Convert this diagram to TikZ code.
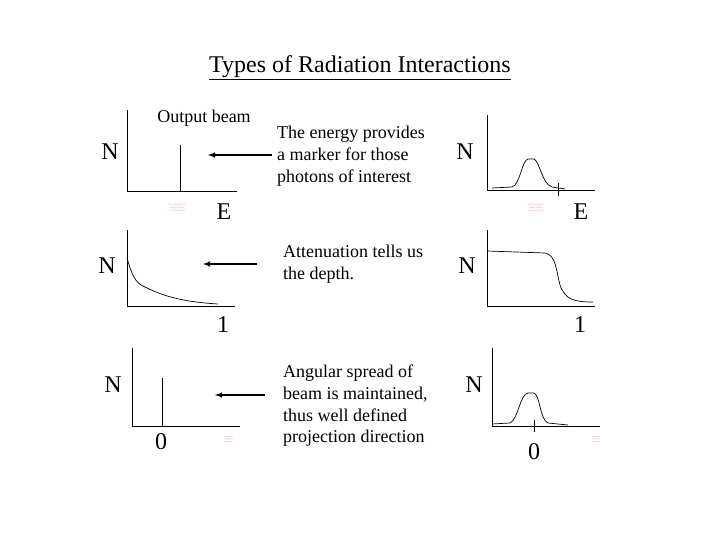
\documentclass[tikz,border=0pt]{standalone}
\usepackage{fontspec}
\setmainfont{Liberation Serif}
\begin{document}
\begin{tikzpicture}[x=1pt,y=-1pt,
  ax/.style={line width=0.8pt},
  cv/.style={line width=0.7pt},
  arr/.style={line width=1.4pt,-latex},
  big/.style={font=\fontsize{24}{26}\selectfont},
  txt/.style={font=\fontsize{18}{21.7}\selectfont,align=left,anchor=north west,inner sep=0pt},
  red/.style={text=red!45,font=\fontsize{2.5}{3}\selectfont,align=center,inner sep=0pt}]
\useasboundingbox (0,0) rectangle (720,540);
\node[font=\fontsize{24}{26}\selectfont,inner sep=0pt] (title) at (360,68) {\underline{Types of Radiation Interactions}};
% panel 1
\draw[ax] (127,110) -- (127,191) -- (237,191);
\draw[cv] (180,145) -- (180,191);
\node[font=\fontsize{18}{20}\selectfont] (ob) at (204,118) {Output beam};
\node[big] (n1) at (110,152) {N};
\node[big] (e1) at (224,212) {E};
\node[red] (r1) at (177,208) {Macintosh PICT\\image format\\is not supported};
\coordinate (a1s) at (272,155); \coordinate (a1e) at (208,155);
\draw[arr] (a1s) -- (a1e);
\node[txt] (t1) at (277,126) {The energy provides\\a marker for those\\photons of interest};
% panel 2
\draw[ax] (487,115) -- (487,190) -- (595,190);
\draw[cv] (492,188) -- (512,187) .. controls (520,185) and (522,160) .. (528,159) -- (534,159) .. controls (540,162) and (542,184) .. (552,187) -- (565,189);
\draw[cv] (558,183) -- (558,196);
\node[big] (n2) at (465,152) {N};
\node[big] (e2) at (581,212) {E};
\node[red] (r2) at (536,208) {Macintosh PICT\\image format\\is not supported};
% panel 3
\draw[ax] (127,230) -- (127,306) -- (235,306);
\draw[cv] (127,258) .. controls (132,275) and (135,283) .. (145,287) .. controls (165,297) and (185,302) .. (218,304);
\node[big] (n3) at (107,266) {N};
\node[big] (o3) at (223,325) {1};
\coordinate (a3s) at (257,264); \coordinate (a3e) at (203,264);
\draw[arr] (a3s) -- (a3e);
\node[txt] (t3) at (283,245) {Attenuation tells us\\the depth.};
% panel 4
\draw[ax] (487,230) -- (487,306) -- (595,306);
\draw[cv] (487,251) -- (545,253) .. controls (556,255) and (556,270) .. (560,285) .. controls (565,300) and (575,302) .. (593,302);
\node[big] (n4) at (467,266) {N};
\node[big] (o4) at (580,325) {1};
% panel 5
\draw[ax] (132,348) -- (132,426) -- (240,426);
\draw[cv] (162,378) -- (162,426);
\node[big] (n5) at (113,385) {N};
\node[big] (z5) at (161,442) {0};
\node[text=red!35,font=\fontsize{12}{12}\selectfont] (q5) at (229,440) {$\equiv$};
\coordinate (a5s) at (265,395); \coordinate (a5e) at (215,395);
\draw[arr] (a5s) -- (a5e);
\node[txt] (t5) at (283,365) {Angular spread of\\beam is maintained,\\thus well defined\\projection direction};
% panel 6
\draw[ax] (492,348) -- (492,426) -- (600,426);
\draw[cv] (492,424) -- (510,423) .. controls (518,420) and (520,394) .. (528,393) -- (534,393) .. controls (540,395) and (540,420) .. (548,423) -- (568,425);
\draw[cv] (534,420) -- (534,432);
\node[big] (n6) at (474,385) {N};
\node[big] (z6) at (534,452) {0};
\node[text=red!35,font=\fontsize{12}{12}\selectfont] (q6) at (596,440) {$\equiv$};
\end{tikzpicture}
\end{document}
